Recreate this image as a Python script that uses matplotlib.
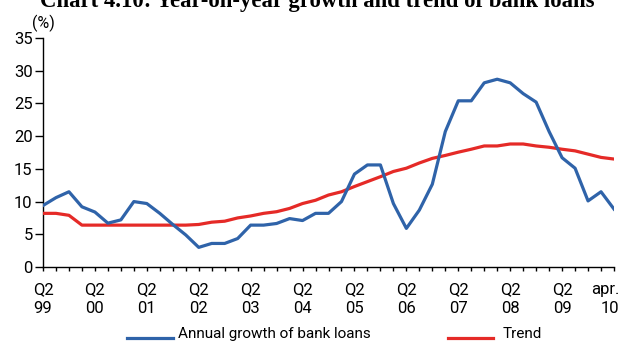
import matplotlib
matplotlib.use("Agg")
import matplotlib.pyplot as plt
import matplotlib.transforms as mtransforms
from matplotlib.lines import Line2D
import numpy as np

# Quarterly observations, Q2 1999 .. April 2010
loan_growth = [9.4, 10.6, 11.5, 9.2, 8.4, 6.7, 7.2, 10.0, 9.7, 8.2,
               6.5, 4.9, 3.0, 3.6, 3.6, 4.35, 6.4, 6.4, 6.65, 7.4,
               7.1, 8.2, 8.2, 10.0, 14.2, 15.6, 15.6, 9.7, 5.9, 8.7,
               12.65, 20.7, 25.4, 25.4, 28.15, 28.7, 28.15, 26.5, 25.2, 20.7,
               16.7, 15.1, 10.1, 11.5, 8.85]
trend = [8.2, 8.2, 7.9, 6.4, 6.4, 6.4, 6.4, 6.4, 6.4, 6.4,
         6.4, 6.4, 6.5, 6.85, 7.0, 7.5, 7.8, 8.2, 8.45, 8.95,
         9.7, 10.2, 11.0, 11.5, 12.3, 13.05, 13.8, 14.6, 15.1, 15.9,
         16.6, 17.05, 17.55, 18.0, 18.5, 18.5, 18.8, 18.8, 18.5, 18.3,
         18.0, 17.75, 17.25, 16.75, 16.5]
tick_labels = ["Q2\n99", "Q2\n00", "Q2\n01", "Q2\n02", "Q2\n03", "Q2\n04",
               "Q2\n05", "Q2\n06", "Q2\n07", "Q2\n08", "Q2\n09", "apr.\n10"]
y_ticks = [0, 5, 10, 15, 20, 25, 30, 35]

BLUE = "#2f63a9"
RED = "#e52a27"
SANS = ["Roboto", "DejaVu Sans"]
FS = 11.5

W, H = 621, 342
fig = plt.figure(figsize=(W / 100, H / 100), dpi=100)
ax = fig.add_axes([43 / W, 1 - 267 / H, (614 - 43) / W, (267 - 38) / H])

x = np.arange(len(loan_growth))
ax.plot(x, trend, color=RED, lw=2.3, solid_joinstyle="round", zorder=3)
ax.plot(x, loan_growth, color=BLUE, lw=2.3, solid_joinstyle="round", zorder=4)

ax.set_xlim(0, len(loan_growth) - 1)
ax.set_ylim(0, 35)

for s in ("top", "right"):
    ax.spines[s].set_visible(False)
for s in ("left", "bottom"):
    ax.spines[s].set_linewidth(1.0)
    ax.spines[s].set_color("black")

ax.set_yticks(y_ticks)
ax.set_yticklabels([str(v) for v in y_ticks], family=SANS, fontsize=12)
ax.tick_params(axis="y", direction="out", length=5.5, width=1.0, pad=2)

ax.set_xticks(x, minor=True)
major = list(range(0, len(loan_growth), 4))
ax.set_xticks(major)
ax.set_xticklabels(tick_labels, family=SANS, fontsize=12, linespacing=1.3)
ax.tick_params(axis="x", which="both", direction="out", length=3.0, width=1.0, pad=8)
last = ax.get_xticklabels()[-1]
last.set_horizontalalignment("right")
last.set_multialignment("right")
last.set_transform(last.get_transform() + mtransforms.ScaledTranslation(5 / 100, 0, fig.dpi_scale_trans))

# unit label above the value axis
fig.text(43 / W, 1 - 23 / H, "(%)", family=SANS, fontsize=FS, ha="center", va="center")

# title, fitted to its width
title = fig.text(317 / W, 1 - 7 / H, "Chart 4.10: Year-on-year growth and trend of bank loans",
                 family=["Liberation Serif", "DejaVu Serif"], fontweight="bold",
                 fontsize=10, ha="center", va="baseline")
fig.canvas.draw()
w = title.get_window_extent().width
title.set_fontsize(10 * 556 / w)

# legend row
ly = 1 - 338 / H
fig.add_artist(Line2D([127 / W, 173 / W], [ly, ly], color=BLUE, lw=2.3))
fig.text(178 / W, ly, "Annual growth of bank loans", family=SANS, fontsize=11, va="baseline")
fig.add_artist(Line2D([448 / W, 493 / W], [ly, ly], color=RED, lw=2.3))
fig.text(503 / W, ly, "Trend", family=SANS, fontsize=11, va="baseline")

fig.savefig("out.png", dpi=100)
